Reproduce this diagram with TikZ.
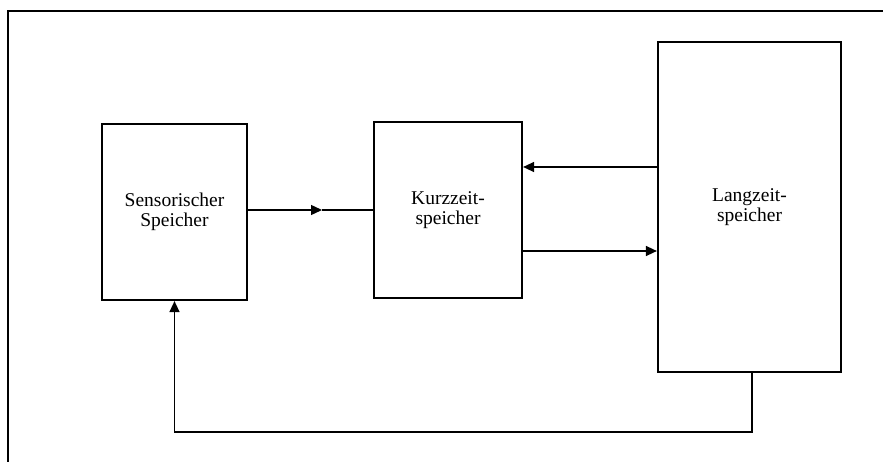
\documentclass[tikz,border=0pt]{standalone}
\usepackage{fontspec}
\setmainfont{Liberation Serif}
\usetikzlibrary{arrows.meta}
\begin{document}
\begin{tikzpicture}[x=1pt,y=-1pt,
  box/.style={draw,line width=2.2pt,inner sep=0pt,align=center,
    font=\fontsize{19.5}{20.5}\selectfont},
  conn/.style={line width=1.4pt},
  arr/.style={conn,-{Triangle[length=11pt,width=10pt]}},
  frame/.style={line width=2pt}]
\useasboundingbox (0,0) rectangle (883,462);
% frame (top and left edge only)
\coordinate (ftl) at (8,11);
\coordinate (ftr) at (883,11);
\coordinate (fbl) at (8,462);
\draw[frame] (ftr) -- (ftl) -- (fbl);
% boxes
\node[box,minimum width=145pt,minimum height=176pt] (s) at (174.5,212) {Sensorischer\\Speicher};
\node[box,minimum width=148pt,minimum height=176pt] (k) at (448,210) {Kurzzeit-\\speicher};
\node[box,minimum width=183pt,minimum height=330pt] (l) at (749.5,207) {Langzeit-\\speicher};
% connectors
\coordinate (m) at (322,210);
\draw[arr] (s.east |- m) -- (m);
\draw[conn] (m) -- (k.west |- m);
\coordinate (a1) at (0,167);
\draw[arr] (l.west |- a1) -- (k.east |- a1);
\coordinate (a2) at (0,251);
\draw[arr] (k.east |- a2) -- (l.west |- a2);
\coordinate (fb) at (752,432);
\draw[arr] (l.south -| fb) -- (fb) -| (s.south);
\end{tikzpicture}
\end{document}
